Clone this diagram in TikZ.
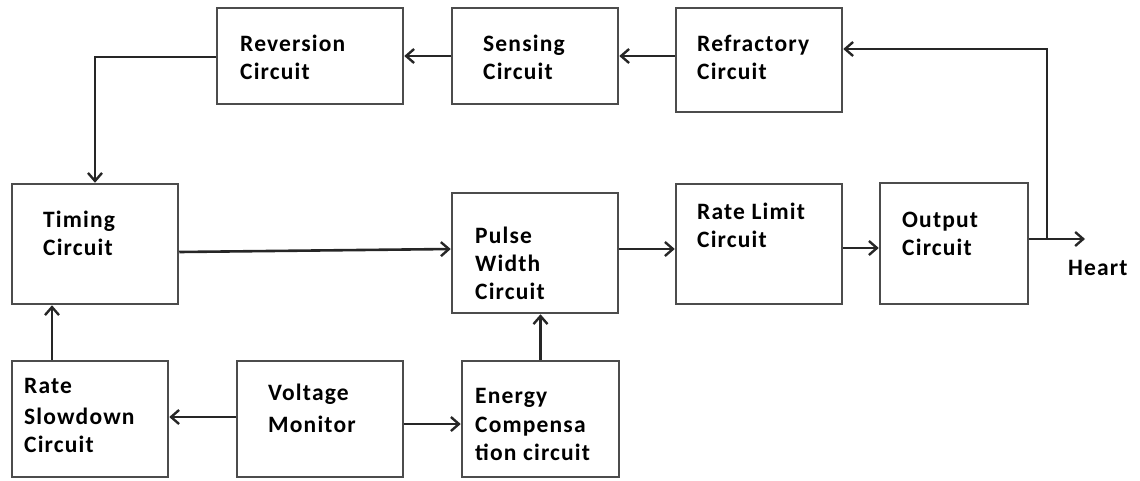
\documentclass[tikz,border=0pt]{standalone}
\usepackage{fontspec}
\setmainfont{Carlito}[LetterSpace=5]
\usepackage{tikz}
\usetikzlibrary{arrows.meta, positioning}
\tikzset{
  block/.style={
    draw=black!70, line width=2.5pt, rectangle,
    inner sep=0pt
  },
  blocktext/.style={
    anchor=base west, align=left, inner sep=0pt,
    font=\fontsize{23.5}{28}\selectfont\bfseries
  },
  flow/.style={draw=black!85, line width=2.6pt, -{Straight Barb[length=8pt, width=14pt, line width=2.4pt]}},
}

\begin{document}
\begin{tikzpicture}[x=1pt, y=-1pt]
  \useasboundingbox (0,0) rectangle (1140,480);

  % top row
  \node[block, minimum width=186pt, minimum height=96pt]  (rev) at (310,56)  {};
  \node[block, minimum width=166pt, minimum height=96pt]  (sen) at (535,56)  {};
  \node[block, minimum width=166pt, minimum height=104pt] (ref) at (759,60)  {};

  % middle row
  \node[block, minimum width=166pt, minimum height=120pt] (tim) at (95,244)  {};
  \node[block, minimum width=166pt, minimum height=120pt] (pw)  at (535,253) {};
  \node[block, minimum width=166pt, minimum height=120pt] (rl)  at (759,244) {};
  \node[block, minimum width=148pt, minimum height=121pt] (out) at (954,243.5) {};

  % bottom row
  \node[block, minimum width=156pt, minimum height=116pt] (rs)  at (90,419)  {};
  \node[block, minimum width=166pt, minimum height=116pt] (vm)  at (320,419) {};
  \node[block, minimum width=157pt, minimum height=116pt] (ec)  at (540.5,419) {};

  % labels (anchored on the last line)
  \node[blocktext] (rev-t) at (240,79)  {Reversion\\Circuit};
  \node[blocktext] (sen-t) at (483,79)  {Sensing\\Circuit};
  \node[blocktext] (ref-t) at (697,79)  {Refractory\\Circuit};
  \node[blocktext] (tim-t) at (43,255)  {Timing\\Circuit};
  \node[blocktext] (pw-t)  at (475,299) {Pulse\\Width\\Circuit};
  \node[blocktext] (rl-t)  at (697,247) {Rate Limit\\Circuit};
  \node[blocktext] (out-t) at (902,255) {Output\\Circuit};
  \node[blocktext] (rs-t)  at (24,452)  {Rate\\[3pt]Slowdown\\Circuit};
  \node[blocktext] (vm-t)  at (268,432) {Voltage\\[4pt]Monitor};
  \node[blocktext] (ec-t)  at (475,460) {Energy\\[1pt]Compensa\\tion circuit};

  % heart output
  \coordinate (hrt) at (1085,239);
  \coordinate (tap) at (1047,239);
  \node[blocktext] (hrt-t) at (1068,275) {Heart};

  % connections
  \draw[flow] (ref.west |- sen.east) -- (sen.east);
  \draw[flow] (sen.west) -- (rev.east);
  \draw[flow] ([yshift=-1pt]rev.west) -| (tim.north);
  \draw[flow] ([yshift=-8pt]tim.east) -- ([yshift=4pt]pw.west);
  \draw[flow] ([yshift=4pt]pw.east) -- ([yshift=-5pt]rl.west);
  \draw[flow] ([yshift=-4pt]rl.east) -- ([yshift=-4pt]rl.east -| out.west);
  \draw[flow] ([yshift=4.5pt]out.east) -- (hrt);
  \draw[flow] (tap) |- ([yshift=11pt]ref.east);
  \draw[flow] ([xshift=-38pt]rs.north) -- ([xshift=-38pt]rs.north |- tim.south);
  \draw[flow] ([yshift=2pt]vm.west) -- ([yshift=2pt]vm.west -| rs.east);
  \draw[flow] ([yshift=-5pt]vm.east) -- ([yshift=-5pt]vm.east -| ec.west);
  \draw[flow] (ec.north) -- (ec.north |- pw.south);
\end{tikzpicture}
\end{document}
